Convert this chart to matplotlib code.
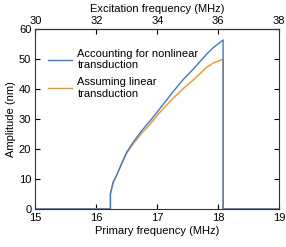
import matplotlib.pyplot as plt

plt.rcParams['font.family'] = ['Liberation Sans', 'DejaVu Sans']
plt.rcParams['font.size'] = 8

# primary frequency (MHz) and amplitude (nm)
freq = [15.0, 16.23, 16.23, 16.275, 16.33, 16.41, 16.495, 16.60, 16.74, 16.88,
        17.01, 17.26, 17.42, 17.59, 17.81, 17.915, 18.08, 18.08, 19.0]
amp_nonlin = [0, 0, 5.0, 8.9, 11.1, 14.9, 18.8, 22.1, 26.0, 29.3,
              32.6, 39.1, 43.0, 46.6, 51.6, 53.7, 56.3, 0, 0]
amp_lin = [0, 0, 5.0, 8.9, 11.1, 14.9, 18.6, 21.6, 25.2, 28.2,
           31.5, 36.9, 40.0, 43.0, 47.2, 48.6, 49.9, 0, 0]

fig = plt.figure(figsize=(2.86, 2.47), dpi=100)
ax = fig.add_axes([0.124, 0.154, 0.852, 0.729])

ax.plot(freq, amp_lin, color='#f7931e', lw=1.0, label='Assuming linear\ntransduction')
ax.plot(freq, amp_nonlin, color='#3c78d8', lw=1.0, label='Accounting for nonlinear\ntransduction')

ax.set_xlim(15, 19)
ax.set_ylim(0, 60)
ax.set_xticks([15, 16, 17, 18, 19])
ax.set_yticks([0, 10, 20, 30, 40, 50, 60])
ax.set_xlabel('Primary frequency (MHz)', labelpad=2)
ax.set_ylabel('Amplitude (nm)', labelpad=2)
ax.tick_params(direction='in', length=3.5, width=0.8, right=True, pad=3)

top = ax.secondary_xaxis('top', functions=(lambda x: 2 * x, lambda x: x / 2))
top.set_xticks([30, 32, 34, 36, 38])
top.set_xlabel('Excitation frequency (MHz)', labelpad=3)
top.tick_params(direction='in', length=3.5, width=0.8, pad=2)

for s in ax.spines.values():
    s.set_color('#333333')
    s.set_linewidth(0.8)

h, l = ax.get_legend_handles_labels()
ax.legend(h[::-1], l[::-1], loc='upper left', frameon=False, handlelength=2.1,
          handletextpad=0.5, labelspacing=0.6, borderaxespad=0,
          bbox_to_anchor=(0.035, 0.915))

fig.savefig('out.png', dpi=100)
